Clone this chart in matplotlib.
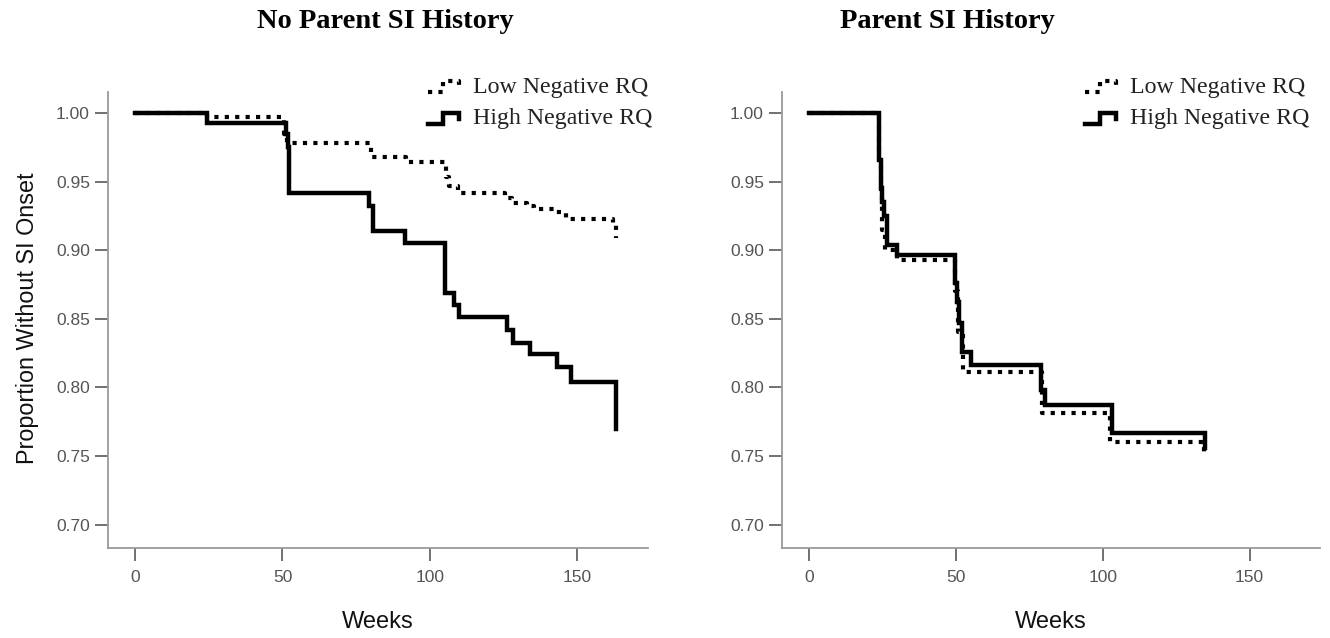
import matplotlib
matplotlib.use('Agg')
import matplotlib.pyplot as plt
from matplotlib.lines import Line2D
from matplotlib.legend_handler import HandlerBase
from matplotlib.font_manager import FontProperties

# Kaplan-Meier step data (weeks, proportion without SI onset)
low_np_t = [0, 24.4, 50.5, 51.5, 80.0, 91.9, 105.4, 106.6, 109.6, 125.5, 127.9, 132.8, 135.2, 142.5, 146.2, 162.0, 163.2]
low_np_s = [1.00, 0.997, 0.985, 0.978, 0.968, 0.964, 0.953, 0.947, 0.9415, 0.938, 0.9345, 0.932, 0.930, 0.9275, 0.9225, 0.919, 0.909]

high_np_t = [0, 24.4, 51.2, 51.7, 52.2, 79.2, 80.8, 91.4, 105.2, 108.1, 109.9, 126.2, 128.1, 134.1, 143.2, 148.0, 163.2]
high_np_s = [1.00, 0.9925, 0.985, 0.975, 0.9415, 0.932, 0.914, 0.905, 0.869, 0.860, 0.851, 0.842, 0.8325, 0.824, 0.8145, 0.804, 0.770]

low_p_t = [0, 23.8, 24.4, 25.0, 26.0, 29.9, 49.8, 50.8, 52.5, 79.5, 102.5, 134.5]
low_p_s = [1.00, 0.966, 0.94, 0.915, 0.900, 0.893, 0.87, 0.84, 0.8115, 0.781, 0.7605, 0.7495]

high_p_t = [0, 23.8, 24.4, 24.9, 25.5, 26.6, 30.0, 49.8, 50.5, 51.1, 52.1, 55.2, 79.0, 80.2, 103.3, 134.9]
high_p_s = [1.00, 0.966, 0.945, 0.935, 0.925, 0.9038, 0.8965, 0.876, 0.862, 0.847, 0.826, 0.8163, 0.798, 0.7872, 0.7665, 0.7556]

titles = ['No Parent SI History', 'Parent SI History']
labels = ['Low Negative RQ', 'High Negative RQ']
xticks = [0, 50, 100, 150]
yticks = [0.70, 0.75, 0.80, 0.85, 0.90, 0.95, 1.00]

DOT = (0, (1.0, 1.5))


class StepHandler(HandlerBase):
    """draws the little km step glyph in the legend"""
    def __init__(self, ls, lw):
        HandlerBase.__init__(self)
        self.ls = ls
        self.lw = lw

    def create_artists(self, legend, orig_handle, xdescent, ydescent, width, height, fontsize, trans):
        xs = [0.0, 0.45, 0.45, 0.95, 0.95]
        ys = [0.05, 0.05, 0.7, 0.7, 0.3]
        line = Line2D([-xdescent + v * width for v in xs], [-ydescent + v * height for v in ys],
                      color='black', lw=self.lw, linestyle=self.ls,
                      dash_capstyle='butt', solid_joinstyle='miter', transform=trans)
        return [line]


fig = plt.figure(figsize=(13.3, 6.38), dpi=100)
W, H = 1330.0, 638.0

panels = [
    (108, 648, low_np_t, low_np_s, high_np_t, high_np_s, 385, 652),
    (782, 1320, low_p_t, low_p_s, high_p_t, high_p_s, 947, 1309),
]

for i, (x0, x1, lt, ls, ht, hs, tx, lx) in enumerate(panels):
    ax = fig.add_axes([x0 / W, (H - 548) / H, (x1 - x0) / W, 456 / H])
    l1, = ax.step(lt, ls, where='post', color='black', lw=3.0, linestyle=DOT,
                  dash_capstyle='butt', solid_joinstyle='miter')
    l2, = ax.step(ht, hs, where='post', color='black', lw=3.2, solid_joinstyle='miter')
    ax.set_xlim(-9.2, 174)
    ax.set_ylim(0.6829, 1.0153)
    ax.set_xticks(xticks)
    ax.set_yticks(yticks)
    ax.set_yticklabels(['%.2f' % v for v in yticks])
    for s in ['top', 'right']:
        ax.spines[s].set_visible(False)
    for s in ['left', 'bottom']:
        ax.spines[s].set_color('#9a9a9a')
        ax.spines[s].set_linewidth(1.3)
    ax.tick_params(axis='both', colors='#666666', width=1.3, labelsize=12.5,
                   labelcolor='#555555', labelfontfamily='Liberation Sans')
    ax.tick_params(axis='y', length=9.5, pad=3.5)
    ax.tick_params(axis='x', length=9.5, pad=6)

    leg = ax.legend([l1, l2], labels,
                    handler_map={l1: StepHandler(DOT, 3.0), l2: StepHandler('-', 3.2)},
                    loc='upper right', bbox_to_anchor=(lx / W, 1 - 76 / H),
                    bbox_transform=fig.transFigure, frameon=False,
                    prop=FontProperties(family='Liberation Serif', size=17.2),
                    handlelength=1.35, handletextpad=0.5, labelspacing=0.42,
                    borderaxespad=0, borderpad=0)
    for t in leg.get_texts():
        t.set_color('#222222')

    fig.text(tx / W, 1 - 22 / H, titles[i], ha='center', va='center',
             family='Liberation Serif', weight='bold', size=20.5)
    fig.text(((x0 + x1) / 2.0) / W, 1 - 622 / H, 'Weeks', ha='center', va='center',
             family='Liberation Sans', size=17, color='#111111')

fig.text(28 / W, 1 - 318 / H, 'Proportion Without SI Onset', rotation=90,
         ha='center', va='center', family='Liberation Sans', size=16.8, color='#111111')

fig.savefig('out.png', dpi=100)
plt.close()
